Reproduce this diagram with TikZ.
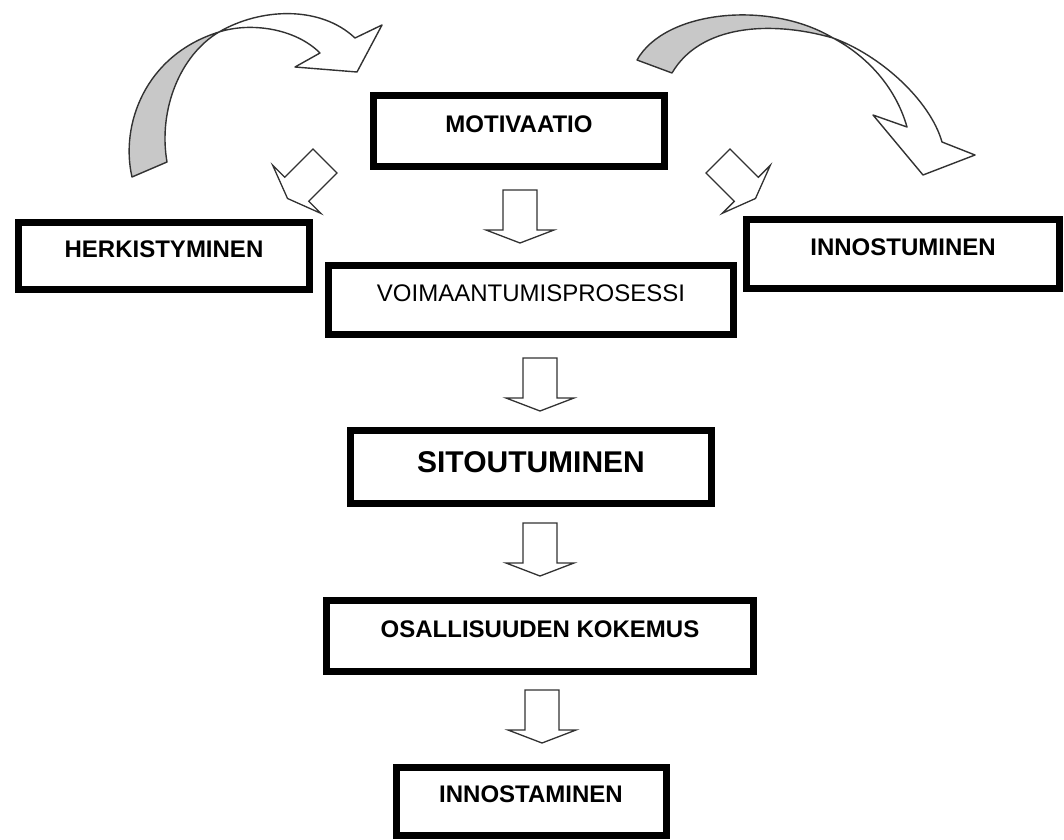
\documentclass[tikz,border=0pt]{standalone}
\usepackage{fontspec}
\setmainfont{Liberation Sans}
\usetikzlibrary{calc}
\definecolor{ribbongray}{RGB}{200,200,200}
\definecolor{outline}{RGB}{50,50,50}
\tikzset{
  stagebox/.style={draw=black, line width=7pt, inner sep=0pt, align=center,
    text height=18pt, text depth=15pt, font=\bfseries\fontsize{24}{28}\selectfont},
  blockline/.style={draw=outline, fill=white, line width=1.3pt, line join=miter},
  ribbon/.style={draw=outline, line width=1.4pt, line join=round},
  blockarr/.pic={
    \path[blockline] (-17,0) -- (17,0) -- (17,40) -- (34,40) -- (0,53)
      -- (-34,40) -- (-17,40) -- cycle;
  }
}
\begin{document}
\begin{tikzpicture}[x=1pt, y=-1pt]
    \useasboundingbox (0,0) rectangle (1064,839);

    % Stage boxes
    \node[stagebox, minimum width=291pt, minimum height=71pt] (motiv) at (519,131) {MOTIVAATIO};
    \node[stagebox, minimum width=291pt, minimum height=67pt] (herk) at (164,256) {HERKISTYMINEN};
    \node[stagebox, minimum width=313pt, minimum height=69pt] (innostu) at (903,254) {INNOSTUMINEN};
    \node[stagebox, font=\fontsize{24}{28}\selectfont, minimum width=405pt, minimum height=69pt] (voim) at (531,300) {VOIMAANTUMISPROSESSI};
    \node[stagebox, font=\bfseries\fontsize{30}{34}\selectfont, text height=22pt, text depth=11pt,
        minimum width=361pt, minimum height=73pt] (sitou) at (531,467) {SITOUTUMINEN};
    \node[stagebox, minimum width=427pt, minimum height=71pt] (osal) at (540,636) {OSALLISUUDEN KOKEMUS};
    \node[stagebox, minimum width=270pt, minimum height=68pt] (innostam) at (531,801) {INNOSTAMINEN};

    % Block arrows down the middle
    \foreach \src/\dx/\dy in {motiv/1/20, voim/9/20, sitou/9/16, osal/2/15} {
        \pic at ($(\src.south)+(\dx,\dy)$) {blockarr};
    }

    % Block arrows to the sides
    \pic[rotate=-45] at (325,161) {blockarr};
    \pic[rotate=45] at (718,161) {blockarr};

    % Left curved arrow
    \path[ribbon, fill=ribbongray] (132,177) .. controls (120,125) and (145,55) .. (219,32)
        .. controls (180,55) and (158,110) .. (167,162) -- cycle;
    \path[ribbon, fill=white] (219,32) .. controls (260,8) and (320,5) .. (355,38)
        -- (382,25) -- (357,72) -- (295,67) -- (320,53)
        .. controls (295,28) and (250,22) .. (219,32) -- cycle;

    % Right curved arrow
    \path[ribbon, fill=ribbongray] (637,60) .. controls (665,10) and (770,0) .. (833,38)
        .. controls (770,20) and (700,25) .. (672,73) -- cycle;
    \path[ribbon, fill=white] (833,38) .. controls (880,55) and (930,100) .. (942,142)
        -- (975,155) -- (923,175) -- (873,115) -- (907,127)
        .. controls (895,85) and (865,55) .. (833,38) -- cycle;
\end{tikzpicture}
\end{document}
